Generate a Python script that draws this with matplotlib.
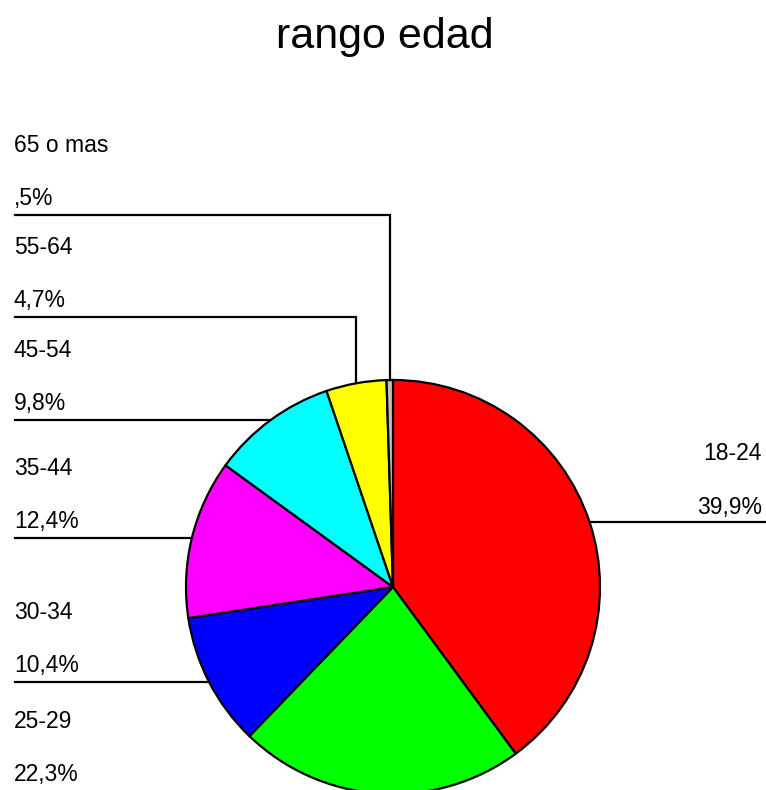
import numpy as np
import matplotlib
matplotlib.use('Agg')
import matplotlib.pyplot as plt

plt.rcParams['font.family'] = ['Liberation Sans', 'DejaVu Sans']

# data
categorias = ['18-24', '25-29', '30-34', '35-44', '45-54', '55-64', '65 o mas']
porcentajes = [39.9, 22.3, 10.4, 12.4, 9.8, 4.7, 0.5]
colores = ['#FF0000', '#00FF00', '#0000FF', '#FF00FF', '#00FFFF', '#FFFF00', '#C0C0C0']

# label layout (pixel rows from top, None = straight to the slice)
linea_y = [None, 792, None, None, None, 317, 215]
lado = ['right', 'left', 'left', 'left', 'left', 'left', 'left']

W, H = 766, 790
fig = plt.figure(figsize=(W / 100, H / 100), dpi=100)
ax = fig.add_axes([0, 0, 1, 1])

cx, cy, r = 393, H - 587, 207
wedges, _ = ax.pie(porcentajes, colors=colores, startangle=90, counterclock=False,
                   center=(cx, cy), radius=r, frame=True,
                   wedgeprops=dict(edgecolor='black', linewidth=1.6))
ax.set_xlim(0, W)
ax.set_ylim(0, H)
ax.axis('off')


def fmt(v):
    s = f'{v:.1f}'.replace('.', ',')
    return s[1:] if s.startswith('0') else s


fs = 16.5
for w, cat, v, ly, side in zip(wedges, categorias, porcentajes, linea_y, lado):
    ang = np.deg2rad((w.theta1 + w.theta2) / 2)
    ax_x = cx + r * np.cos(ang)
    ax_y = cy + r * np.sin(ang)
    y_line = ax_y if ly is None else H - ly
    if side == 'left':
        ax.plot([15, ax_x, ax_x], [y_line, y_line, ax_y], color='black', lw=1.6,
                solid_joinstyle='miter')
        ax.text(14, y_line + 17, fmt(v) + '%', ha='left', va='center', fontsize=fs)
        ax.text(14, y_line + 70, cat, ha='left', va='center', fontsize=fs)
    else:
        ax.plot([ax_x, W], [y_line, y_line], color='black', lw=1.6)
        ax.text(762, y_line + 15, fmt(v) + '%', ha='right', va='center', fontsize=fs)
        ax.text(762, y_line + 69, cat, ha='right', va='center', fontsize=fs)

ax.text(385, H - 37, 'rango edad', ha='center', va='center', fontsize=31)

fig.savefig('out.png', dpi=100)
